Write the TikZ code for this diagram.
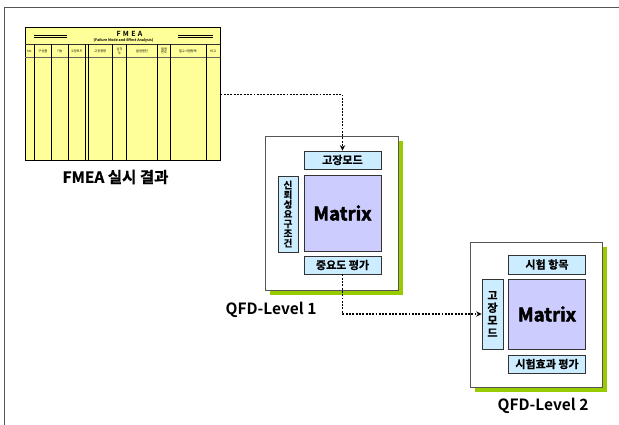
\documentclass[tikz,border=0pt]{standalone}
\usepackage{fontspec}
\setmainfont{Noto Sans CJK KR}[BoldFont={* Bold}]
\newfontfamily\heavyfont{Noto Sans CJK KR Bold}[FakeBold=2.5]
\newfontfamily\boxfont{Noto Sans CJK KR Bold}[FakeBold=0.8]
\usetikzlibrary{shadows,arrows.meta}

\definecolor{sheet}{HTML}{FFFF99}
\definecolor{headbox}{HTML}{CCECFF}
\definecolor{matrixfill}{HTML}{CCCCFF}
\definecolor{leafgreen}{HTML}{99CC00}
\definecolor{framegray}{HTML}{555555}

\tikzset{
  qfdframe/.style={draw=framegray, line width=0.9pt, fill=white,
    drop shadow={shadow xshift=5pt, shadow yshift=-5pt, fill=leafgreen, opacity=1},
    minimum width=#1, inner sep=0pt},
  labelbox/.style={draw=black!80, line width=0.8pt, fill=headbox, inner sep=0pt,
    font=\boxfont\fontsize{11}{11}\selectfont},
  sidebox/.style={labelbox, align=center},
  matbox/.style={draw=black!80, line width=0.8pt, fill=matrixfill, inner sep=0pt,
    font=\heavyfont\fontsize{18.5}{18.5}\selectfont},
  caption/.style={font=\boxfont\fontsize{15.5}{16}\selectfont},
  levelcap/.style={font=\bfseries\fontsize{15.5}{16}\selectfont},
  flow/.style={line width=1.9pt, dash pattern=on 1.9pt off 1.4pt,
    -{Stealth[length=5.5pt,width=5.5pt,line width=0pt]}},
  tinyhead/.style={font=\fontsize{3.2}{3.4}\selectfont, align=center, inner sep=0pt},
  colrule/.style={black, line width=0.9pt}
}

\begin{document}
\begin{tikzpicture}[x=1pt,y=-1pt]
\useasboundingbox (0,0) rectangle (619,425);

% page frame, open to the right and bottom
\draw[framegray, line width=0.8pt] (4,430) -- (4,7) -- (630,7);

% ---------------- FMEA worksheet ----------------
\node[draw=black, line width=1pt, fill=sheet, minimum width=195pt, minimum height=133pt,
      inner sep=0pt] (fmea) at (122.5,94.5) {};
\node[font=\bfseries\fontsize{7}{7}\selectfont, inner sep=0pt] (ftitle) at (129.5,33.5) {F\,\,M\,\,E\,\,A};
\node[font=\bfseries\fontsize{3.6}{4}\selectfont, inner sep=0pt] (fsub) at (123.5,40) {(Failure Mode and Effect Analysis)};
% decorative double rules beside the title
\draw[line width=0.6pt] (34,35) -- (67,35) (34,37) -- (67,37);
\draw[line width=0.6pt] (178,35) -- (213,35) (178,37) -- (213,37);
% header rules
\draw[black!80, line width=0.8pt] (25,44.3) -- (220,44.3);
\draw[black!60, line width=1.4pt] (25,57.7) -- (220,57.7);
% column rules
\foreach \cx in {34.3,51.3,68,85.3,88.3,112.3,126.7,157.7,170.3,206}
  \draw[colrule] (\cx,44.3) -- (\cx,161);
% column headings
\node[tinyhead] (h1) at (29.5,51) {No};
\node[tinyhead] (h2) at (42.8,51) {구성품};
\node[tinyhead] (h3) at (59.7,51) {기능};
\node[tinyhead] (h4) at (76.7,51) {고장모드};
\node[tinyhead] (h5) at (100.3,51) {고장영향};
\node[tinyhead] (h6) at (119.5,51) {심각\\도};
\node[tinyhead] (h7) at (142,51) {발생원인};
\node[tinyhead] (h8) at (164,51) {발생\\빈도};
\node[tinyhead] (h9) at (188,51) {필수시험항목};
\node[tinyhead] (h10) at (213,51) {비고};

\node[caption] (fcap) at (115.5,177) {FMEA 실시 결과};

% ---------------- QFD level 1 ----------------
\node[qfdframe=133pt, minimum height=154pt] (q1) at (331.5,213) {};
\node[labelbox, minimum width=77pt, minimum height=18pt] (q1top) at (342.5,160) {고장모드};
\node[matbox, minimum width=77pt, minimum height=76pt] (q1mat) at (342.5,213) {Matrix};
\node[sidebox, minimum width=20pt, minimum height=76pt,
      font=\boxfont\fontsize{9.5}{9.7}\selectfont] (q1side) at (288,214)
      {신\\뢰\\성\\요\\구\\조\\건};
\node[labelbox, minimum width=77pt, minimum height=18pt] (q1bot) at (342.5,265) {중요도 평가};
\node[levelcap] (q1cap) at (271,310) {QFD-Level 1};

% ---------------- QFD level 2 ----------------
\node[qfdframe=132pt, minimum height=145pt] (q2) at (536,314.5) {};
\node[labelbox, minimum width=77.5pt, minimum height=19pt] (q2top) at (547,264.5) {시험 항목};
\node[matbox, minimum width=77.5pt, minimum height=70pt] (q2mat) at (547,314) {Matrix};
\node[sidebox, minimum width=21pt, minimum height=70pt,
      font=\boxfont\fontsize{11}{12.5}\selectfont] (q2side) at (492.5,314)
      {고\\장\\모\\드};
\node[labelbox, minimum width=77.5pt, minimum height=18pt] (q2bot) at (547,364) {시험효과 평가};
\node[levelcap] (q2cap) at (543,406) {QFD-Level 2};

% ---------------- flow connectors ----------------
\draw[flow] (fmea.east) -| (q1top.north);
\draw[flow] (q1bot.south) |- (q2side.west);
\end{tikzpicture}
\end{document}
